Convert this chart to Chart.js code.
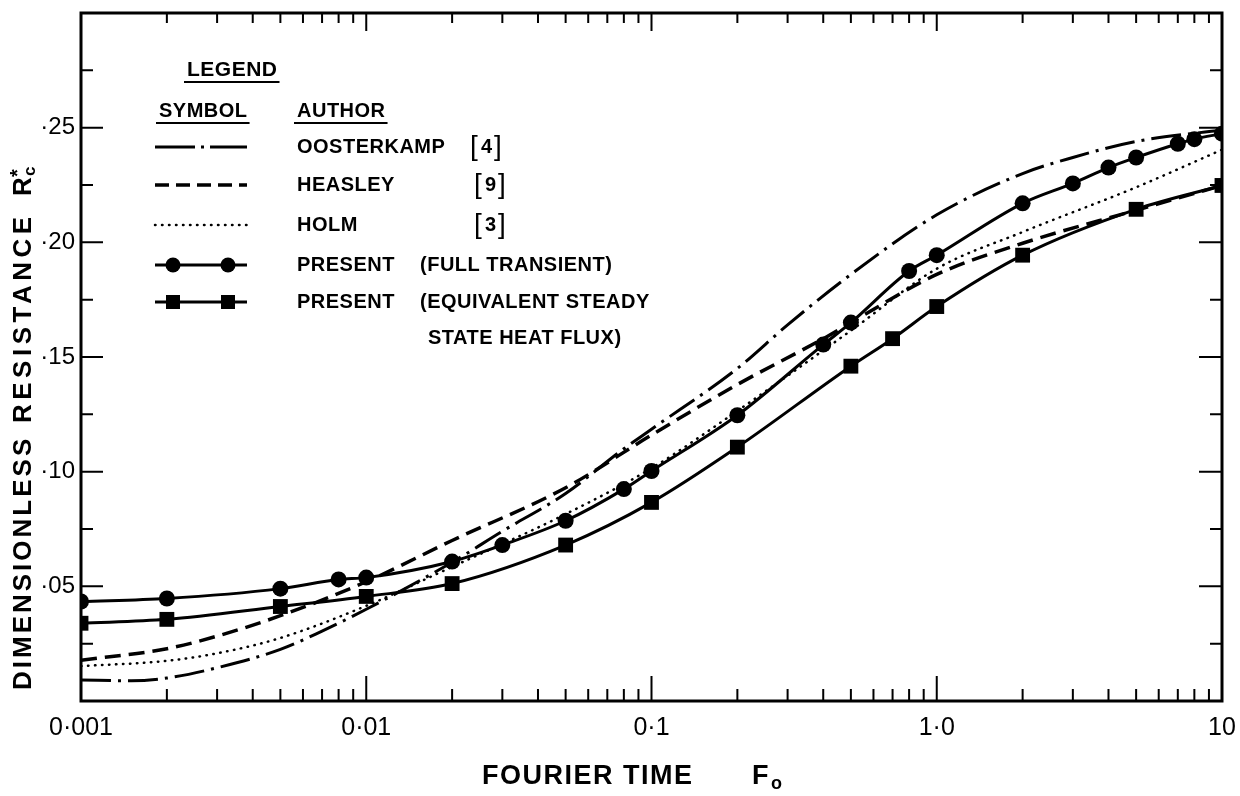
<!DOCTYPE html>
<html>
<head>
<meta charset="utf-8">
<script src="https://cdn.jsdelivr.net/npm/chart.js@4.4.1/dist/chart.umd.min.js"></script>
<style>
  html, body { margin: 0; padding: 0; background: #fff; }
</style>
</head>
<body>
<canvas id="chart" width="1240" height="796"></canvas>
<script>
// --- data ---
// Oosterkamp [4] (dash-dot)
const oosterkampX = [0.001, 0.0015, 0.002, 0.003, 0.005, 0.007, 0.01, 0.02, 0.03, 0.05, 0.08, 0.1, 0.2, 0.3, 0.5, 1, 2, 3, 5, 10];
const oosterkampY = [0.0092, 0.0088, 0.0100, 0.0145, 0.0225, 0.0305, 0.0400, 0.0605, 0.0740, 0.0905, 0.1100, 0.1185, 0.1450, 0.1640, 0.1860, 0.2120, 0.2300, 0.2370, 0.2440, 0.2490];

// Heasley [9] (dashed)
const heasleyX = [0.001, 0.002, 0.003, 0.005, 0.01, 0.02, 0.05, 0.1, 0.2, 0.4, 0.5, 1, 2, 5, 10];
const heasleyY = [0.0178, 0.0228, 0.0283, 0.0372, 0.0520, 0.0700, 0.0930, 0.1160, 0.1380, 0.1580, 0.1650, 0.1860, 0.1996, 0.2140, 0.2248];

// Holm [3] (dotted)
const holmX = [0.001, 0.002, 0.003, 0.005, 0.01, 0.02, 0.05, 0.1, 0.2, 0.5, 1, 2, 5, 10];
const holmY = [0.0152, 0.0175, 0.0208, 0.0275, 0.0415, 0.0585, 0.0815, 0.1015, 0.1265, 0.1615, 0.1885, 0.2045, 0.2240, 0.2404];

// Present, full transient (circles)
const fullX = [0.001, 0.002, 0.005, 0.008, 0.01, 0.02, 0.03, 0.05, 0.08, 0.1, 0.2, 0.4, 0.5, 0.8, 1, 2, 3, 4, 5, 7, 8, 10];
const fullY = [0.0434, 0.0447, 0.0490, 0.0530, 0.0538, 0.0608, 0.0680, 0.0786, 0.0924, 0.1003, 0.1246, 0.1554, 0.1650, 0.1875, 0.1944, 0.2170, 0.2257, 0.2326, 0.2370, 0.2430, 0.2450, 0.2474];

// Present, equivalent steady state heat flux (squares)
const steadyX = [0.001, 0.002, 0.005, 0.01, 0.02, 0.05, 0.1, 0.2, 0.5, 0.7, 1, 2, 5, 10];
const steadyY = [0.0339, 0.0356, 0.0412, 0.0456, 0.0512, 0.0680, 0.0866, 0.1107, 0.1460, 0.1580, 0.1720, 0.1944, 0.2144, 0.2248];

// axis ticks
const xDecades = [0.001, 0.01, 0.1, 1];
const xSteps = [1, 2, 3, 4, 5, 6, 7, 8, 9];
const xLabelValues = [0.001, 0.01, 0.1, 1, 10];
const xLabelTexts = ['0·001', '0·01', '0·1', '1·0', '10'];
const yTickValues = [0, 0.025, 0.05, 0.075, 0.10, 0.125, 0.15, 0.175, 0.20, 0.225, 0.25, 0.275, 0.30];
const yLabelValues = [0.05, 0.10, 0.15, 0.20, 0.25];
const yLabelTexts = ['·05', '·10', '·15', '·20', '·25'];

const xTickValues = [];
xDecades.forEach(d => xSteps.forEach(s => xTickValues.push(d * s)));
xTickValues.push(10);

const FONT = '"Liberation Sans", Arial, sans-serif';
const INK = '#000';

const near = (a, b) => Math.abs(a - b) <= Math.abs(b) * 1e-6 + 1e-12;
const xLabelFor = v => { const i = xLabelValues.findIndex(d => near(v, d)); return i < 0 ? '' : xLabelTexts[i]; };
const yLabelFor = v => { const i = yLabelValues.findIndex(d => near(v, d)); return i < 0 ? '' : yLabelTexts[i]; };
const toPoints = (xs, ys) => xs.map((x, i) => ({ x, y: ys[i] }));

const DASH_DOT = [30, 7, 3, 7];
const DASHED = [16, 8];
const DOTTED = [0.5, 6.5];

// frame with inward ticks on all four sides
const frameTicks = {
    id: 'frameTicks',
    beforeDatasetsDraw(chart) {
        const { ctx, chartArea: a, scales: { x, y } } = chart;
        ctx.save();
        ctx.strokeStyle = INK;
        ctx.lineWidth = 2;
        ctx.beginPath();
        x.ticks.forEach(t => {
            const px = x.getPixelForValue(t.value);
            const major = xLabelValues.some(d => near(t.value, d));
            ctx.moveTo(px, a.bottom); ctx.lineTo(px, a.bottom - (major ? 25 : 12));
            ctx.moveTo(px, a.top); ctx.lineTo(px, a.top + (major ? 18 : 10));
        });
        y.ticks.forEach(t => {
            const py = y.getPixelForValue(t.value);
            const major = yLabelValues.some(d => near(t.value, d));
            ctx.moveTo(a.left, py); ctx.lineTo(a.left + (major ? 22 : 12), py);
            ctx.moveTo(a.right, py); ctx.lineTo(a.right - (major ? 23 : 12), py);
        });
        ctx.stroke();
        ctx.lineWidth = 3;
        ctx.strokeRect(a.left, a.top, a.right - a.left, a.bottom - a.top);
        ctx.restore();
    }
};

// axis titles and the hand-lettered legend box
const annotations = {
    id: 'annotations',
    afterDraw(chart) {
        const { ctx } = chart;
        ctx.save();
        ctx.fillStyle = INK;
        ctx.strokeStyle = INK;

        // y title, reading upwards
        ctx.save();
        ctx.translate(24, 690);
        ctx.rotate(-Math.PI / 2);
        ctx.textBaseline = 'middle';
        ctx.font = `bold 26px ${FONT}`;
        ctx.letterSpacing = '3px';
        ctx.fillText('DIMENSIONLESS', 0, 0);
        ctx.letterSpacing = '4.5px';
        ctx.fillText('RESISTANCE', 267, 0);
        ctx.letterSpacing = '0px';
        ctx.fillText('R', 494, 0);
        ctx.font = `bold 17px ${FONT}`;
        ctx.fillText('c', 514, 6);
        ctx.font = `bold 20px ${FONT}`;
        ctx.fillText('*', 513, -6);
        ctx.restore();

        // x title
        ctx.textBaseline = 'middle';
        ctx.font = `bold 27px ${FONT}`;
        ctx.letterSpacing = '1.5px';
        ctx.fillText('FOURIER TIME', 482, 777);
        ctx.letterSpacing = '0px';
        ctx.fillText('F', 752, 777);
        ctx.font = `bold 18px ${FONT}`;
        ctx.fillText('o', 771, 784);

        // legend headings
        const underlined = (text, x, y, size) => {
            ctx.font = `bold ${size}px ${FONT}`;
            ctx.letterSpacing = '0.5px';
            ctx.fillText(text, x, y);
            const w = ctx.measureText(text).width;
            ctx.lineWidth = 2;
            ctx.beginPath();
            ctx.moveTo(x - 3, y + 12); ctx.lineTo(x + w + 2, y + 12);
            ctx.stroke();
        };
        underlined('LEGEND', 187, 70, 21);
        underlined('SYMBOL', 159, 111, 20);
        underlined('AUTHOR', 297, 111, 20);

        // legend texts
        ctx.font = `bold 20px ${FONT}`;
        ctx.letterSpacing = '0.5px';
        const rows = [
            ['OOSTERKAMP', 297, 147], ['HEASLEY', 297, 185], ['HOLM', 297, 225],
            ['PRESENT', 297, 265], ['(FULL TRANSIENT)', 420, 265],
            ['PRESENT', 297, 302], ['(EQUIVALENT STEADY', 420, 302],
            ['STATE HEAT FLUX)', 428, 338]
        ];
        rows.forEach(([t, x, y]) => ctx.fillText(t, x, y));

        // reference numbers in tall brackets
        ctx.letterSpacing = '0px';
        [['4', 470, 147], ['9', 474, 185], ['3', 474, 225]].forEach(([n, x, y]) => {
            ctx.font = `28px ${FONT}`;
            ctx.fillText('[', x, y);
            ctx.fillText(']', x + 24, y);
            ctx.font = `bold 20px ${FONT}`;
            ctx.fillText(n, x + 11, y);
        });

        // legend symbols
        const sample = (y, dash, width, cap) => {
            ctx.save();
            ctx.lineWidth = width;
            ctx.lineCap = cap;
            ctx.setLineDash(dash);
            ctx.beginPath();
            ctx.moveTo(155, y); ctx.lineTo(247, y);
            ctx.stroke();
            ctx.restore();
        };
        sample(147, [40, 6, 3, 6], 3, 'butt');
        sample(185, [14, 7], 3.5, 'butt');
        sample(225, DOTTED, 2.5, 'round');
        sample(265, [], 3, 'butt');
        sample(302, [], 3, 'butt');
        [173, 228].forEach(cx => {
            ctx.beginPath(); ctx.arc(cx, 265, 7.5, 0, Math.PI * 2); ctx.fill();
            ctx.fillRect(cx - 7, 302 - 7, 14, 14);
        });
        ctx.restore();
    }
};

const lineStyle = { borderColor: INK, backgroundColor: INK, cubicInterpolationMode: 'monotone', fill: false };

new Chart(document.getElementById('chart'), {
    type: 'line',
    data: {
        datasets: [
            { ...lineStyle, label: 'Present (full transient)', data: toPoints(fullX, fullY), borderWidth: 3,
              pointStyle: 'circle', pointRadius: 8, pointBorderWidth: 0 },
            { ...lineStyle, label: 'Present (equivalent steady state heat flux)', data: toPoints(steadyX, steadyY), borderWidth: 3,
              pointStyle: 'rect', pointRadius: 10.5, pointBorderWidth: 0 },
            { ...lineStyle, label: 'Oosterkamp [4]', data: toPoints(oosterkampX, oosterkampY), borderWidth: 3,
              borderDash: DASH_DOT, pointRadius: 0 },
            { ...lineStyle, label: 'Heasley [9]', data: toPoints(heasleyX, heasleyY), borderWidth: 3.5,
              borderDash: DASHED, pointRadius: 0 },
            { ...lineStyle, label: 'Holm [3]', data: toPoints(holmX, holmY), borderWidth: 2.5,
              borderDash: DOTTED, borderCapStyle: 'round', pointRadius: 0 }
        ]
    },
    options: {
        responsive: false,
        devicePixelRatio: 1,
        animation: false,
        layout: { autoPadding: false, padding: { top: 13, right: 18, left: 0, bottom: 0 } },
        plugins: { legend: { display: false }, tooltip: { enabled: false } },
        scales: {
            x: {
                type: 'logarithmic',
                min: 0.001,
                max: 10,
                grid: { display: false, drawTicks: false },
                border: { display: false },
                afterBuildTicks: s => { s.ticks = xTickValues.map(v => ({ value: v })); },
                afterFit: s => { s.height = 95; s.paddingLeft = 0; s.paddingRight = 0; },
                ticks: {
                    autoSkip: false, maxRotation: 0, padding: 12, color: INK,
                    font: { family: FONT, size: 25 },
                    callback: v => xLabelFor(v)
                }
            },
            y: {
                min: 0,
                max: 0.30,
                grid: { display: false, drawTicks: false },
                border: { display: false },
                afterBuildTicks: s => { s.ticks = yTickValues.map(v => ({ value: v })); },
                afterFit: s => { s.width = 81; s.paddingTop = 0; s.paddingBottom = 0; },
                ticks: {
                    autoSkip: false, padding: 6, color: INK,
                    font: { family: FONT, size: 24 },
                    callback: v => yLabelFor(v)
                }
            }
        }
    },
    plugins: [frameTicks, annotations]
});
</script>
</body>
</html>
